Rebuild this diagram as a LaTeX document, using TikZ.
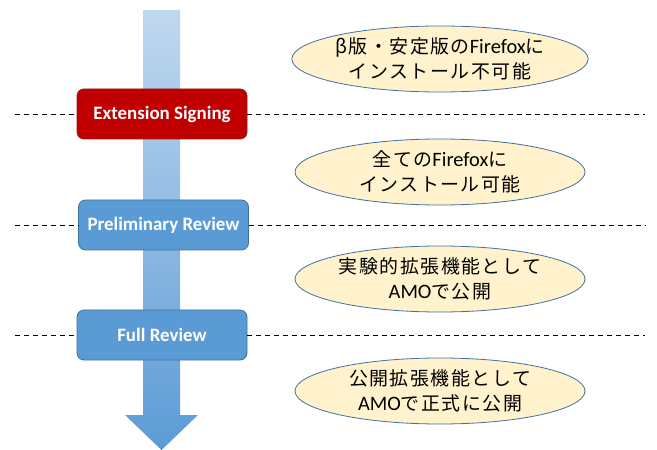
\documentclass[tikz,border=0pt]{standalone}
\usepackage{fontspec}
\setmainfont{Carlito}
\newfontfamily\cjk[LetterSpace=8]{Noto Sans CJK JP}
\newfontfamily\lat[Scale=1.08]{Carlito}
\usetikzlibrary{shapes.geometric}
\definecolor{arrowtop}{HTML}{C0D8EF}
\definecolor{arrowbot}{HTML}{5B9BD5}
\definecolor{redfill}{HTML}{C00000}
\definecolor{redline}{HTML}{8C1A1A}
\definecolor{bluefill}{HTML}{5B9BD5}
\definecolor{blueline}{HTML}{41719C}
\definecolor{noteFill}{HTML}{FFF2CC}
\tikzset{
  stage/.style={rounded corners=7bp, minimum width=170bp, minimum height=50bp,
    text=white, font=\fontsize{19}{22}\selectfont\bfseries, line width=0.8bp, inner sep=0pt},
  redstage/.style={stage, fill=redfill, draw=redline},
  bluestage/.style={stage, fill=bluefill, draw=blueline},
  note/.style={ellipse, fill=noteFill, draw=blueline, line width=0.8bp,
    minimum width=290bp, minimum height=66bp, inner sep=0pt, align=center,
    font=\cjk\fontsize{19}{25}\selectfont},
  sep/.style={dashed, dash pattern=on 5bp off 4bp, line width=0.9bp, black}
}
\begin{document}
\begin{tikzpicture}[x=1bp,y=-1bp]
\useasboundingbox (0,0) rectangle (657,450);
% flow arrow
\shade[top color=arrowtop, bottom color=arrowbot]
  (143,10) -- (180,10) -- (180,415) -- (198,415) -- (161.5,450) -- (125,415) -- (143,415) -- cycle;
% stages
\node[redstage] (sign) at (162,114) {Extension Signing};
\node[bluestage] (prelim) at (163.5,225) {Preliminary Review};
\node[bluestage] (full) at (162,335) {Full Review};
% separators
\coordinate (l1) at (15,114); \coordinate (r1) at (645,114);
\coordinate (l2) at (15,225); \coordinate (r2) at (645,225);
\coordinate (l3) at (15,335); \coordinate (r3) at (645,335);
\draw[sep] (l1) -- (sign.west); \draw[sep] (sign.east) -- (r1);
\draw[sep] (l2) -- (prelim.west); \draw[sep] (prelim.east) -- (r2);
\draw[sep] (l3) -- (full.west); \draw[sep] (full.east) -- (r3);
% notes
\node[note] (n1) at (440,59) {β版・安定版の{\lat Firefox}に\\インストール不可能};
\node[note] (n2) at (440,172) {全ての{\lat Firefox}に\\インストール可能};
\node[note] (n3) at (440,279) {実験的拡張機能として\\{\lat AMO}で公開};
\node[note] (n4) at (440,391) {公開拡張機能として\\{\lat AMO}で正式に公開};
\end{tikzpicture}
\end{document}
